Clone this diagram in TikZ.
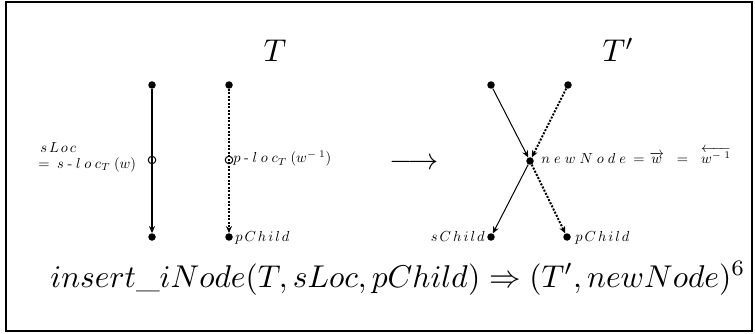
\documentclass[tikz,border=0pt]{standalone}
\usepackage{amsmath}
\usetikzlibrary{arrows.meta}
\newcommand{\K}{\mkern4.5mu}
\newcommand{\Ks}{\mkern2.5mu}
\newcommand{\Kn}{\mkern5mu}
\begin{document}
\begin{tikzpicture}[x=1pt,y=-1pt,
 dot/.style={circle,fill,inner sep=0pt,minimum size=7.5pt},
 odot/.style={circle,draw,line width=1pt,inner sep=0pt,minimum size=7.5pt},
 lbl/.style={font=\normalsize,scale=1.45,inner sep=0pt},
 big/.style={font=\normalsize,scale=3.15,inner sep=0pt},
 tip/.style={-{Stealth[length=7pt,width=6pt]}},
 solidthick/.style={line width=1.8pt,tip},
 solidthin/.style={line width=1pt,tip},
 dots/.style={line width=2pt,dash pattern=on 2pt off 1.5pt,tip}]
\useasboundingbox (0,0) rectangle (755,334);
\draw[line width=1.5pt] (6,2) rectangle (752,331);
% titles
\node[big,anchor=base west] (t1) at (263,62) {$T$};
\node[big,anchor=base west] (t2) at (602,62) {$T'$};
% left tree 1
\node[dot] (a1) at (152,85) {};
\node[odot] (a2) at (152,160) {};
\node[dot] (a3) at (152,237) {};
\draw[solidthick] (a1) -- (a3);
% left tree 2
\node[dot] (b1) at (229,85) {};
\node[odot] (b2) at (229,160) {};
\node[dot] (b3) at (229,237) {};
\draw[dots] (b1) -- (b3);
% labels left
\node[lbl,anchor=base west] (l1) at (40,153) {$s\Ks L\Ks o\Ks c$};
\node[lbl,anchor=base west] (l2) at (38,168) {$=\K s\K\mbox{-}\K l\K o\K c_{T}\K(w)$};
\node[lbl,anchor=base west] (l3) at (233,163) {$p\K\mbox{-}\K l\K o\K c_{T}\K(w^{-\K 1})$};
\node[lbl,anchor=base west] (l4) at (235,241) {$p\Ks C\Ks h\Ks i\Ks l\Ks d$};
% transformation arrow
\node[big,scale=0.96,anchor=base] (arr) at (414,170) {$\longrightarrow$};
% right tree
\node[dot] (c1) at (491,85) {};
\node[dot] (c2) at (568,85) {};
\node[dot] (c3) at (530,161) {};
\node[dot] (c4) at (491,237) {};
\node[dot] (c5) at (567,237) {};
\draw[solidthin] (c1) -- (c3);
\draw[dots] (c2) -- (c3);
\draw[solidthin] (c3) -- (c4);
\draw[dots] (c3) -- (c5);
\node[lbl,anchor=base west] (l5) at (541,164) {$n\Kn e\Kn w\Kn N\Kn o\Kn d\Kn e\mkern4mu=\mkern1mu\overrightarrow{w}\mkern11mu=\mkern11mu\overleftarrow{w^{-\mkern5mu 1}}$};
\node[lbl,anchor=base east] (l6) at (485,241) {$s\Ks C\Ks h\Ks i\Ks l\Ks d$};
\node[lbl,anchor=base west] (l7) at (575,241) {$p\Ks C\Ks h\Ks i\Ks l\Ks d$};
% formula
\node[big,anchor=base] (f) at (398,287) {$insert\_iNode(T,sLoc,pChild)\Rightarrow(T',newNode)^6$};
\end{tikzpicture}
\end{document}
